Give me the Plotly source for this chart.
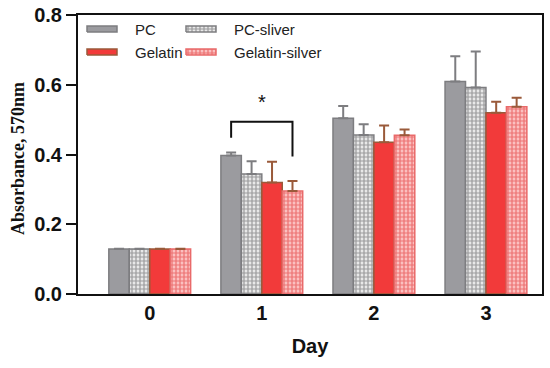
import plotly.graph_objects as go

days = [0, 1, 2, 3]
day_labels = ["0", "1", "2", "3"]
series_names = ["PC", "PC-sliver", "Gelatin", "Gelatin-silver"]

pc_mean = [0.129, 0.397, 0.504, 0.609]
pc_err = [0.001, 0.009, 0.035, 0.073]
pcs_mean = [0.129, 0.344, 0.456, 0.592]
pcs_err = [0.001, 0.037, 0.031, 0.103]
gel_mean = [0.129, 0.320, 0.435, 0.520]
gel_err = [0.001, 0.059, 0.048, 0.031]
gels_mean = [0.129, 0.295, 0.455, 0.537]
gels_err = [0.001, 0.029, 0.017, 0.026]

# significance bracket (day 1, PC vs Gelatin-silver)
sig_day = 1
sig_top = 0.494
sig_left_bottom = 0.448
sig_right_bottom = 0.394
sig_label = "*"

GRAY = "#9b9b9f"
GRAY_D = "#7d7d80"
RED = "#f23a3a"
BROWN = "#9a5a3a"

bargap = 0.27
n_series = 4
bar_w = (1 - bargap) / n_series

PAT_GRAY = dict(shape=".", fgcolor="#555558", bgcolor="white", size=4, solidity=0.7, fillmode="overlay")
PAT_RED = dict(shape=".", fgcolor="#e02a2a", bgcolor="#ffd8d8", size=4, solidity=0.7, fillmode="overlay")

fills = [GRAY, "white", RED, "#ffd2d2"]
outlines = [GRAY_D, GRAY_D, BROWN, "#e96a6a"]
patterns = [None, PAT_GRAY, None, PAT_RED]
err_colors = [GRAY_D, GRAY_D, BROWN, BROWN]
means = [pc_mean, pcs_mean, gel_mean, gels_mean]
errs = [pc_err, pcs_err, gel_err, gels_err]

fig = go.Figure()
for i in range(n_series):
    marker = dict(color=fills[i], line=dict(color=outlines[i], width=1.5))
    if patterns[i]:
        marker["pattern"] = patterns[i]
    fig.add_trace(go.Bar(
        x=days, y=means[i], name=series_names[i], marker=marker, showlegend=False,
        error_y=dict(type="data", array=errs[i], arrayminus=[0] * 4, symmetric=False,
                     color=err_colors[i], thickness=2, width=5),
    ))

# bracket computed from bar layout
x_left = sig_day - 1.5 * bar_w
x_right = sig_day + 1.5 * bar_w
fig.add_shape(type="path",
              path=f"M {x_left},{sig_left_bottom} L {x_left},{sig_top} L {x_right},{sig_top} L {x_right},{sig_right_bottom}",
              line=dict(color="#111", width=2), xref="x", yref="y")
fig.add_annotation(x=sig_day, y=sig_top + 0.02, text=sig_label, showarrow=False,
                   yanchor="bottom", font=dict(size=20, color="#111", family="Liberation Sans"))

# custom legend: swatches on an overlay axis measured in plot pixels (464 x 279)
leg_font = dict(family="Liberation Sans, Arial", size=15, color="#222")
leg_cols = [9, 108]       # swatch left edge (px from plot left)
leg_rows = [265, 242]     # swatch center (px from plot bottom)
sw_w, sw_h = 30, 6
for i in range(n_series):
    col = i % 2
    row = i // 2
    x0 = leg_cols[col]
    yc = leg_rows[row]
    kw = dict(
        x=[x0, x0 + sw_w, x0 + sw_w, x0, x0],
        y=[yc - sw_h / 2, yc - sw_h / 2, yc + sw_h / 2, yc + sw_h / 2, yc - sw_h / 2],
        mode="lines", fill="toself", fillcolor=fills[i],
        line=dict(color=outlines[i], width=1.5),
        xaxis="x2", yaxis="y2", showlegend=False, hoverinfo="skip",
    )
    if patterns[i]:
        kw["fillpattern"] = patterns[i]
    fig.add_trace(go.Scatter(**kw))
    fig.add_annotation(x=x0 + sw_w + 16, y=yc, xref="x2", yref="y2", text=series_names[i],
                       showarrow=False, xanchor="left", yanchor="middle", font=leg_font)

# y-axis title as a rotated annotation (placed like the original)
fig.add_annotation(x=-0.129, y=0.484, xref="paper", yref="paper", text="Absorbance, 570nm",
                   textangle=-90, showarrow=False, xanchor="center", yanchor="middle",
                   font=dict(family="Liberation Serif, Times New Roman", size=18, color="#111", weight="bold"))

fig.update_layout(
    width=550, height=368,
    margin=dict(l=78, r=8, t=15, b=74),
    plot_bgcolor="white", paper_bgcolor="white",
    barmode="group", bargap=bargap, bargroupgap=0,
    showlegend=False,
    xaxis=dict(range=[-0.64, 3.5], tickvals=days, ticktext=day_labels, automargin=False,
               showgrid=False, zeroline=False, ticks="",
               showline=True, linecolor="#111", linewidth=2, mirror=True,
               tickfont=dict(family="Liberation Sans, Arial", size=20, color="#111", weight="bold"),
               title=dict(text="Day", standoff=16,
                          font=dict(family="Liberation Sans, Arial", size=20, color="#111", weight="bold"))),
    yaxis=dict(range=[0, 0.8], tickvals=[0, 0.2, 0.4, 0.6, 0.8], tickformat=".1f", automargin=False,
               ticklabeloverflow="allow",
               showgrid=False, zeroline=False, ticks="outside", ticklen=10, tickwidth=1.5, tickcolor="#111",
               showline=True, linecolor="#111", linewidth=2, mirror=True,
               tickfont=dict(family="Liberation Sans, Arial", size=20, color="#111", weight="bold")),
    xaxis2=dict(overlaying="x", range=[0, 464], visible=False, fixedrange=True),
    yaxis2=dict(overlaying="y", range=[0, 279], visible=False, fixedrange=True),
)

# remove the browser's default 8px body margin so the figure sits at the page origin
fig.write_html("out.html", config={"displayModeBar": False},
               post_script="document.body.style.margin='0';")
